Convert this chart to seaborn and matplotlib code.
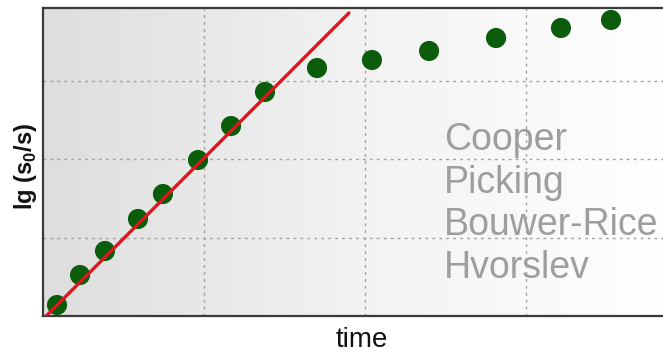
import numpy as np
import pandas as pd
import matplotlib
matplotlib.use("Agg")
import matplotlib.pyplot as plt
import seaborn as sns
from matplotlib.colors import LinearSegmentedColormap

# Measured drawdown recovery, plotted as lg(s0/s) against time
time_vals = [0.087, 0.230, 0.385, 0.590, 0.745, 0.963, 1.168, 1.379,
             1.702, 2.043, 2.398, 2.814, 3.217, 3.528]
lg_ratio = [0.140, 0.522, 0.828, 1.236, 1.554, 1.987, 2.420, 2.854,
            3.159, 3.261, 3.376, 3.541, 3.669, 3.771]

# Straight-line fit through the early-time segment
fit_time = [0.02, 1.90]
fit_lg = [0.0, 3.86]

# Evaluation methods listed on the plot
methods = ["Cooper", "Picking", "Bouwer-Rice", "Hvorslev"]

grid_x = [1, 2, 3]
grid_y = [1, 2, 3]

sns.set_theme(style="white")
plt.rcParams["font.family"] = ["Liberation Sans", "DejaVu Sans"]
plt.rcParams["mathtext.fontset"] = "custom"
plt.rcParams["mathtext.rm"] = "Liberation Sans"
plt.rcParams["mathtext.bf"] = "Liberation Sans:bold"

W, H = 663, 355
fig = plt.figure(figsize=(W / 100, H / 100), dpi=100)
left, right, top, bottom = 43, 663, 8, 316
ax = fig.add_axes([left / W, (H - bottom) / H, (right - left) / W, (bottom - top) / H])

xmax = (right - left) / 161
ymax = (bottom - top) / 78.5
ax.set_xlim(0, xmax)
ax.set_ylim(0, ymax)

# Horizontal grey-to-white background gradient
grad = LinearSegmentedColormap.from_list("bg", ["#dedede", "#f2f2f2", "#ffffff"])
ax.imshow(np.linspace(0, 1, 256).reshape(1, -1), cmap=grad, aspect="auto",
          extent=[0, xmax, 0, ymax], zorder=0, interpolation="bilinear")

for gx in grid_x:
    ax.axvline(gx, color="#a0a0a0", lw=1.0, ls=(0, (2, 3)), zorder=1)
for gy in grid_y:
    ax.axhline(gy, color="#a0a0a0", lw=1.0, ls=(0, (2, 3)), zorder=1)

pts = pd.DataFrame({"time": time_vals, "lg": lg_ratio})
sns.scatterplot(data=pts, x="time", y="lg", ax=ax, s=210, color="#0b5c0b",
                edgecolor="none", zorder=3, clip_on=False)

fit = pd.DataFrame({"time": fit_time, "lg": fit_lg})
sns.lineplot(data=fit, x="time", y="lg", ax=ax, color="#e3141c", lw=2.4,
             zorder=4)

baselines = [150, 193, 235, 278]
for name, by in zip(methods, baselines):
    ax.text((444 - left) / (right - left), (bottom - by) / (bottom - top), name,
            transform=ax.transAxes, fontsize=27, color="#9e9e9e",
            ha="left", va="baseline", zorder=0.5)

ax.set_xticks([])
ax.set_yticks([])
ax.set_xlabel("time", fontsize=20, color="#111111", labelpad=9)
ax.set_ylabel(r"lg (s$_\mathbf{0}$/s)", fontsize=17, color="#111111",
              fontweight="bold", labelpad=0)
ax.xaxis.set_label_coords(0.514, -0.035, transform=ax.transAxes)
ax.xaxis.label.set_va("top")
ax.yaxis.set_label_coords(-0.006, 0.487, transform=ax.transAxes)
ax.yaxis.label.set_va("bottom")

for side in ["left", "top", "bottom"]:
    ax.spines[side].set_visible(True)
    ax.spines[side].set_color("#3a3a3a")
    ax.spines[side].set_linewidth(1.6)
ax.spines["right"].set_visible(False)

fig.savefig("out.png", dpi=100)
